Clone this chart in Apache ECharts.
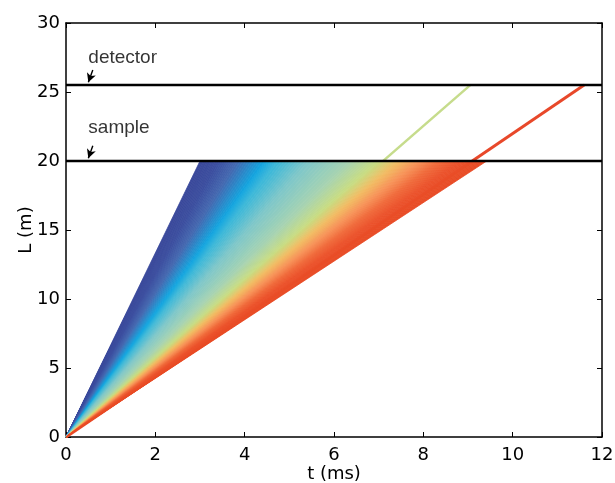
<!DOCTYPE html>
<html>
<head>
<meta charset="utf-8">
<script src="https://cdn.jsdelivr.net/npm/echarts@6/dist/echarts.min.js"></script>
<style>
html,body{margin:0;padding:0;background:#fff;}
#chart{width:615px;height:483px;}
</style>
</head>
<body>
<div id="chart"></div>
<script>
// ---- data ----
var xTicks = [0, 2, 4, 6, 8, 10, 12];
var yTicks = [0, 5, 10, 15, 20, 25, 30];
var sampleL = 20;
var detectorL = 25.5;
// arrival times (ms) at the sample position for the fan's colour stops
var fanTimes  = [3.0, 3.39, 3.84, 4.45, 4.75, 5.43, 6.34, 7.02, 7.48, 7.93, 8.39, 8.84, 9.42];
var fanColors = ['#39479a', '#3b4d9e', '#4468b0', '#13a5df', '#3cb8d9', '#7fc7c9', '#a6d3b2',
                 '#c9dc82', '#f2bb62', '#f79257', '#f0693a', '#eb522b', '#e84a24'];
// two neutron paths continuing to the detector
var greenPath = [[0, 0], [9.05, 25.5]];
var redPath   = [[0, 0], [11.6, 25.5]];
var sampleLine   = [[0, 20], [12, 20]];
var detectorLine = [[0, 25.5], [12, 25.5]];
var labels = [
  {name: 'detector', pos: [0.5, 27.5], arrowFrom: [0.6, 26.6], arrowTo: [0.5, 25.7]},
  {name: 'sample',   pos: [0.5, 22.4], arrowFrom: [0.6, 21.1], arrowTo: [0.5, 20.2]}
];

var chart = echarts.init(document.getElementById('chart'), null, {renderer: 'canvas'});

var tickFont = {fontFamily: 'DejaVu Sans', fontSize: 18, color: '#000'};
var axisLineStyle = {color: '#000', width: 1.5};

var fanData = [];
for (var i = 0; i < fanTimes.length - 1; i++) {
  fanData.push([fanTimes[i], fanTimes[i + 1], i]);
}

function frameAxis(pos, isX) {
  var ax = {
    type: 'value', position: pos,
    axisLine: {show: true, onZero: false, lineStyle: axisLineStyle},
    axisTick: {show: true, inside: true, length: 5, lineStyle: {color: '#000'}},
    axisLabel: {show: false}, splitLine: {show: false}
  };
  if (isX) { ax.min = 0; ax.max = 12; ax.interval = 2; }
  else { ax.min = 0; ax.max = 30; ax.interval = 5; }
  return ax;
}

var option = {
  animation: false,
  backgroundColor: '#fff',
  grid: {left: 66, right: 13, top: 23, bottom: 46, containLabel: false, outerBoundsMode: 'none'},
  xAxis: [{
    type: 'value', min: 0, max: 12, interval: 2, position: 'bottom',
    name: 't (ms)', nameLocation: 'middle', nameGap: 28, nameMoveOverlap: false,
    nameTextStyle: {fontFamily: 'DejaVu Sans', fontSize: 18, color: '#000'},
    axisLine: {show: true, onZero: false, lineStyle: axisLineStyle},
    axisTick: {show: true, inside: true, length: 5, lineStyle: {color: '#000'}},
    axisLabel: Object.assign({margin: 9, showMaxLabel: true, showMinLabel: true}, tickFont),
    splitLine: {show: false}
  }, frameAxis('top', true)],
  yAxis: [{
    type: 'value', min: 0, max: 30, interval: 5, position: 'left',
    name: 'L (m)', nameLocation: 'middle', nameGap: 31, nameRotate: 90, nameMoveOverlap: false,
    nameTextStyle: {fontFamily: 'DejaVu Sans', fontSize: 18, color: '#000'},
    axisLine: {show: true, onZero: false, lineStyle: axisLineStyle},
    axisTick: {show: true, inside: true, length: 5, lineStyle: {color: '#000'}},
    axisLabel: Object.assign({margin: 6}, tickFont),
    splitLine: {show: false}
  }, frameAxis('right', false)],
  series: [
    {
      type: 'line', data: greenPath, symbol: 'none', z: 1,
      lineStyle: {color: '#c6dc8c', width: 2.5}
    },
    {
      type: 'line', data: redPath, symbol: 'none', z: 1,
      lineStyle: {color: '#e8482a', width: 3}
    },
    {
      type: 'custom',
      xAxisIndex: 0, yAxisIndex: 0,
      data: fanData,
      encode: {x: [0, 1]},
      z: 2,
      renderItem: function (params, api) {
        var t0 = api.value(0), t1 = api.value(1), idx = api.value(2);
        var o = api.coord([0, 0]);
        var a = api.coord([t0, sampleL]);
        var b = api.coord([t1, sampleL]);
        var c0 = fanColors[idx], c1 = fanColors[idx + 1];
        var n = 10, children = [];
        for (var k = 0; k < n; k++) {
          var f0 = k / n, f1 = (k + 1) / n;
          var p0 = [a[0] + (b[0] - a[0]) * f0, a[1]];
          var p1 = [a[0] + (b[0] - a[0]) * f1, a[1]];
          var col = echarts.color.lerp((f0 + f1) / 2, [c0, c1]);
          children.push({
            type: 'polygon',
            shape: {points: [o, p0, p1]},
            style: {fill: col, stroke: col, lineWidth: 0.8}
          });
        }
        return {type: 'group', children: children};
      }
    },
    {
      type: 'line', data: sampleLine, symbol: 'none', z: 3,
      lineStyle: {color: '#000', width: 2.5}
    },
    {
      type: 'line', data: detectorLine, symbol: 'none', z: 3,
      lineStyle: {color: '#000', width: 2.5}
    },
    {
      type: 'scatter', z: 4,
      symbolSize: 0,
      data: labels.map(function (d) { return {value: d.pos, name: d.name}; }),
      label: {
        show: true, position: [0, 0], align: 'left', verticalAlign: 'middle',
        formatter: '{b}',
        fontFamily: 'Liberation Sans', fontSize: 19, color: '#000'
      },
      markLine: {
        silent: true,
        symbol: ['none', 'arrow'],
        symbolSize: [7, 9],
        label: {show: false},
        lineStyle: {color: '#000', width: 1.4, type: 'solid'},
        data: labels.map(function (d) {
          return [{coord: d.arrowFrom}, {coord: d.arrowTo}];
        })
      }
    }
  ]
};
chart.setOption(option);
</script>
</body>
</html>
